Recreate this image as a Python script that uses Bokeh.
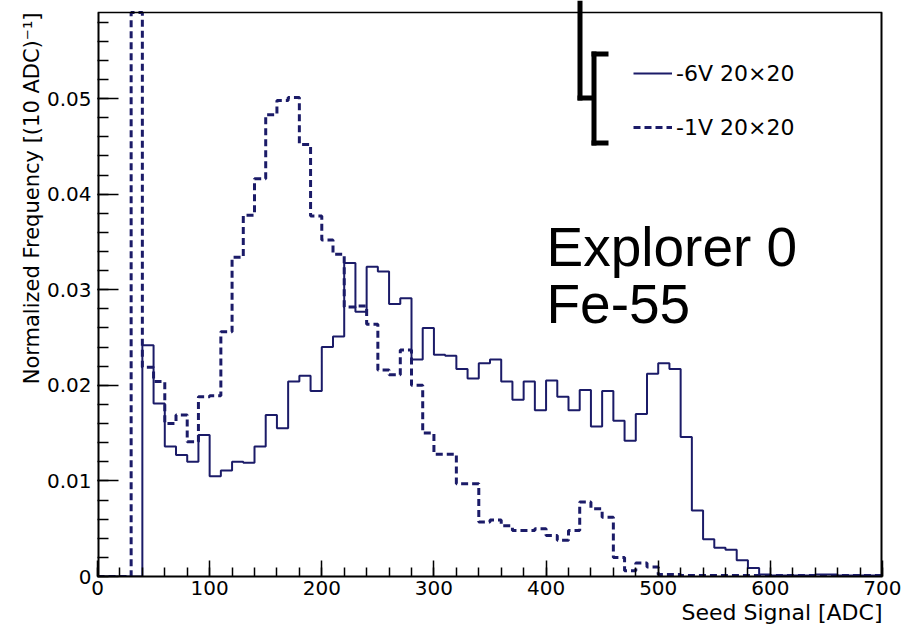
import math
from bokeh.plotting import figure
from bokeh.models import (Range1d, FixedTicker, Label, Legend, LegendItem, BoxAnnotation,
                          Title)
from bokeh.embed import file_html
from bokeh.resources import INLINE

# ---------------- data ----------------
bin_edges = list(range(0, 710, 10))  # 70 bins of 10 ADC

sig_6v = [0, 0, 0, 0, 0.0242, 0.0181, 0.0136, 0.0127, 0.0120, 0.0148,
          0.0105, 0.0111, 0.0120, 0.0119, 0.0136, 0.0169, 0.0155, 0.0204, 0.0210, 0.0194,
          0.0240, 0.0251, 0.0328, 0.0277, 0.0324, 0.0319, 0.0285, 0.0291, 0.0227, 0.0260,
          0.0232, 0.0231, 0.0217, 0.0207, 0.0223, 0.0227, 0.0204, 0.0185, 0.0204, 0.0174,
          0.0205, 0.0188, 0.0174, 0.0195, 0.0157, 0.0194, 0.0163, 0.0142, 0.0170, 0.0212,
          0.0223, 0.0217, 0.0146, 0.0069, 0.0039, 0.0030, 0.0028, 0.0017, 0.0009, 0.0002,
          0.0001, 0.0001, 0.0001, 0.0001, 0.0002, 0.0002, 0.0001, 0.0001, 0.0001, 0.0001]

sig_1v = [0, 0, 0, 0.1000, 0.0219, 0.0204, 0.0160, 0.0169, 0.0141, 0.0188,
          0.0189, 0.0256, 0.0334, 0.0378, 0.0416, 0.0483, 0.0498, 0.0501, 0.0452, 0.0377,
          0.0352, 0.0337, 0.0282, 0.0283, 0.0264, 0.0216, 0.0211, 0.0237, 0.0200, 0.0150,
          0.0128, 0.0128, 0.0097, 0.0097, 0.0057, 0.0059, 0.0053, 0.0048, 0.0048, 0.0050,
          0.0043, 0.0038, 0.0048, 0.0078, 0.0071, 0.0062, 0.0020, 0.0006, 0.0014, 0.0010,
          0.0002, 0.0002, 0.0001, 0.0001, 0.0001, 0.0001, 0.0001, 0.0001, 0.0001, 0.0001,
          0.0001, 0.0001, 0.0001, 0.0001, 0.0001, 0.0001, 0.0001, 0.0001, 0.0001, 0.0001]

series_labels = ["-6V 20\u00d720", "-1V 20\u00d720"]
x_ticks = [0, 100, 200, 300, 400, 500, 600, 700]
x_minor = list(range(0, 701, 20))
y_ticks = [0, 0.01, 0.02, 0.03, 0.04, 0.05]
y_minor = [round(i * 0.002, 3) for i in range(30)]
x_title = "Seed Signal [ADC]"
y_title = "Normalized Frequency [(10 ADC)\u207b\u00b9]"
note_lines = ["Explorer 0", "Fe-55"]

X_MAX = 700
Y_TOP = 0.059          # top of the histogram box (axis maximum)
FRAME_TOP_PX = 12      # histogram box top sits this many px below the canvas top
FRAME_H = 564

NAVY = "#1b1b68"
TICK_FONT = "DejaVu Sans"


def shown(vals):
    """Histogram as drawn: bins above the axis maximum are cut at the box top."""
    v = [min(a, Y_TOP) for a in vals]
    return v + [v[-1]]


# ---------------- figure ----------------
# The plotting frame extends to the canvas top so that the hand-drawn bracket can
# rise above the histogram box; the box itself is drawn up to Y_TOP.
y_end = Y_TOP * (FRAME_H + FRAME_TOP_PX) / FRAME_H
p = figure(width=901, height=630, output_backend="svg", toolbar_location=None,
           x_range=Range1d(0, X_MAX), y_range=Range1d(0, y_end),
           min_border_left=97, min_border_right=19, min_border_top=0, min_border_bottom=54,
           background_fill_color="white", border_fill_color="white")
p.xgrid.grid_line_color = None
p.ygrid.grid_line_color = None
p.outline_line_color = None

xa = p.xaxis[0]
ya = p.yaxis[0]
xa.ticker = FixedTicker(ticks=x_ticks, minor_ticks=x_minor)
ya.ticker = FixedTicker(ticks=y_ticks, minor_ticks=y_minor)
ya.major_label_overrides = {0: "0"}
for ax, mj, mn in ((xa, 16, 9), (ya, 21, 11)):
    ax.axis_line_color = "black"
    ax.axis_line_width = 2
    ax.major_tick_in = mj
    ax.major_tick_out = 0
    ax.minor_tick_in = mn
    ax.minor_tick_out = 0
    ax.major_tick_line_color = "black"
    ax.minor_tick_line_color = "black"
    ax.major_tick_line_width = 1.5
    ax.minor_tick_line_width = 1.5
    ax.major_label_text_font = TICK_FONT
    ax.major_label_text_font_size = "20px"
    ax.major_label_text_color = "black"
ya.axis_line_color = None
xa.major_label_standoff = 4
ya.major_label_standoff = 6

# ---------------- histograms ----------------
r6 = p.step(x=bin_edges, y=shown(sig_6v), mode="after",
            line_color=NAVY, line_width=2)
r1 = p.step(x=bin_edges, y=shown(sig_1v), mode="after",
            line_color=NAVY, line_width=3, line_dash="7 4")

# histogram box: left / right sides and top
p.segment(x0=[0, X_MAX], y0=[0, 0], x1=[0, X_MAX], y1=[Y_TOP, Y_TOP],
          line_color="black", line_width=4)
p.segment(x0=[0], y0=[Y_TOP], x1=[X_MAX], y1=[Y_TOP], line_color="black", line_width=1.5)

legend = Legend(items=[LegendItem(label=series_labels[0], renderers=[r6]),
                       LegendItem(label=series_labels[1], renderers=[r1])],
                location=(536, 434), padding=0, margin=0, spacing=24,
                glyph_width=39, glyph_height=30, label_height=30, label_standoff=4,
                label_text_font=TICK_FONT, label_text_font_size="22px",
                label_text_color="black",
                background_fill_alpha=0, border_line_color=None)
p.add_layout(legend, "center")

# ---------------- axis titles ----------------
p.add_layout(Title(text=x_title, align="right", text_font=TICK_FONT,
                   text_font_size="22px", text_font_style="normal",
                   text_color="black", standoff=0), "below")
p.add_layout(Title(text=y_title, align="right", text_font=TICK_FONT,
                   text_font_size="21px", text_font_style="normal",
                   text_color="black", standoff=0, offset=FRAME_TOP_PX), "left")

# ---------------- annotation text ----------------
p.add_layout(Label(x=449, y=330, x_units="screen", y_units="screen", text=note_lines[0],
                   text_baseline="alphabetic", text_font="Liberation Sans",
                   text_font_size="55px", text_color="black"))
p.add_layout(Label(x=449, y=273, x_units="screen", y_units="screen", text=note_lines[1],
                   text_baseline="alphabetic", text_font="Liberation Sans",
                   text_font_size="55px", text_color="black"))

# ---------------- hand-drawn bracket marks (canvas px) ----------------
def bar(l, r, t, b):
    p.add_layout(BoxAnnotation(left=l - 97, right=r - 97, top=576 - t, bottom=576 - b,
                               left_units="screen", right_units="screen",
                               top_units="screen", bottom_units="screen",
                               fill_color="black", fill_alpha=1, line_color=None,
                               level="overlay"))

bar(577, 582, 0, 100)
bar(577, 592, 95, 100)
bar(591, 596, 51, 145)
bar(591, 608, 51, 56)
bar(591, 608, 140, 145)

open("out.html", "w").write(file_html(p, INLINE))
